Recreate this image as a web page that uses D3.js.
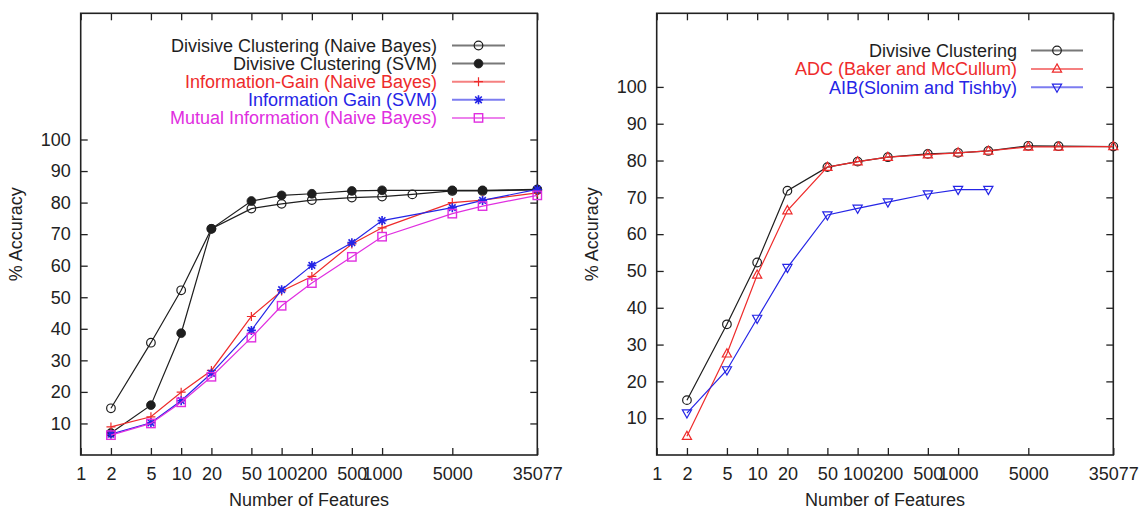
<!DOCTYPE html>
<html>
<head>
<meta charset="utf-8">
<script src="https://cdn.jsdelivr.net/npm/d3@7"></script>
<style>
  body { margin: 0; background: #fff; }
  svg { display: block; }
  text { font-family: "Liberation Sans", Arial, Helvetica, sans-serif; }
</style>
</head>
<body>
<svg id="chart" width="1139" height="510"></svg>
<script>
// ---- tick labels ----
const featureTicks = [1, 2, 5, 10, 20, 50, 100, 200, 500, 1000, 5000, 35077];
const accuracyTicks = [10, 20, 30, 40, 50, 60, 70, 80, 90, 100];

// ---- left panel: feature selection comparisons ----
const featuresWith2000 = [2, 5, 10, 20, 50, 100, 200, 500, 1000, 2000, 5000, 10000, 35077];
const featuresStd      = [2, 5, 10, 20, 50, 100, 200, 500, 1000, 5000, 10000, 35077];

const divisiveNB  = [14.8, 35.6, 52.2, 71.7, 78.1, 79.6, 80.8, 81.6, 81.9, 82.6, 83.7, 83.7, 84.0];
const divisiveSVM = [7.0, 15.8, 38.6, 71.7, 80.5, 82.3, 82.8, 83.7, 83.9, 83.9, 83.9, 84.2];
const infoGainNB  = [8.9, 12.1, 19.9, 26.8, 43.9, 52.0, 56.6, 66.9, 72.0, 80.0, 80.8, 83.1];
const infoGainSVM = [6.6, 10.2, 17.2, 25.9, 39.5, 52.4, 60.1, 67.3, 74.3, 78.4, 80.7, 84.2];
const mutualInfoNB = [6.3, 10.0, 16.7, 24.8, 37.2, 47.3, 54.5, 62.8, 69.2, 76.5, 78.9, 82.3];

// ---- right panel: clustering comparisons ----
const featuresRight = [2, 5, 10, 20, 50, 100, 200, 500, 1000, 2000, 5000, 10000, 35077];
const featuresAIB   = [2, 5, 10, 20, 50, 100, 200, 500, 1000, 2000];

const divisiveRight = [14.9, 35.5, 52.3, 71.8, 78.2, 79.7, 80.9, 81.8, 82.1, 82.6, 84.0, 83.9, 83.8];
const adcBaker      = [5.1, 27.5, 48.9, 66.4, 78.2, 79.7, 80.9, 81.6, 82.1, 82.6, 83.7, 83.7, 83.8];
const aibSlonim     = [11.4, 23.1, 37.1, 50.9, 65.2, 67.0, 68.7, 70.9, 72.1, 72.1];

// ---- colours ----
const BLACK = "#1e1e1e", RED = "#ee2b2b", BLUE = "#2525e6", MAGENTA = "#e02ee0";

const svg = d3.select("#chart");
const PW = 456.6, TOP = 13.3, BOTTOM = 455;
const FONT = 18;

function drawMarker(g, type, color) {
  const sw = 1.2;
  switch (type) {
    case "circle":
      g.append("circle").attr("r", 4.3).attr("fill", "none").attr("stroke", color).attr("stroke-width", sw);
      break;
    case "dot":
      g.append("circle").attr("r", 4.4).attr("fill", color).attr("stroke", color).attr("stroke-width", 0.8);
      break;
    case "plus":
      g.append("path").attr("d", "M-4.5,0H4.5M0,-4.5V4.5").attr("stroke", color).attr("stroke-width", sw);
      break;
    case "star":
      g.append("path").attr("d", "M-4.5,0H4.5M0,-4.5V4.5M-3.3,-3.3L3.3,3.3M-3.3,3.3L3.3,-3.3")
        .attr("stroke", color).attr("stroke-width", sw + 0.4);
      break;
    case "square":
      g.append("rect").attr("x", -4.2).attr("y", -4.2).attr("width", 8.4).attr("height", 8.4)
        .attr("fill", "none").attr("stroke", color).attr("stroke-width", sw + 0.2);
      break;
    case "triUp":
      g.append("path").attr("d", "M0,-5L4.6,3.2L-4.6,3.2Z").attr("fill", "none")
        .attr("stroke", color).attr("stroke-width", sw);
      break;
    case "triDown":
      g.append("path").attr("d", "M0,5L4.6,-3.2L-4.6,-3.2Z").attr("fill", "none")
        .attr("stroke", color).attr("stroke-width", sw);
      break;
  }
}

function drawPanel(p) {
  const x = d3.scaleLog().domain([1, 35077]).range([p.x0, p.x0 + PW]);
  const y = d3.scaleLinear().domain([0, p.yMax]).range([BOTTOM, TOP]);
  const g = svg.append("g");

  // inward ticks on all four sides
  const bottomAxis = g.append("g").attr("transform", `translate(0,${BOTTOM})`)
    .call(d3.axisBottom(x).tickValues(featureTicks).tickFormat(d3.format("d"))
      .tickSizeInner(-7).tickSizeOuter(0).tickPadding(12));
  const topAxis = g.append("g").attr("transform", `translate(0,${TOP})`)
    .call(d3.axisTop(x).tickValues(featureTicks).tickFormat("").tickSizeInner(-7).tickSizeOuter(0));
  const leftAxis = g.append("g").attr("transform", `translate(${p.x0},0)`)
    .call(d3.axisLeft(y).tickValues(accuracyTicks).tickFormat(d3.format("d"))
      .tickSizeInner(-7).tickSizeOuter(0).tickPadding(10));
  const rightAxis = g.append("g").attr("transform", `translate(${p.x0 + PW},0)`)
    .call(d3.axisRight(y).tickValues(accuracyTicks).tickFormat("").tickSizeInner(-7).tickSizeOuter(0));

  [bottomAxis, topAxis, leftAxis, rightAxis].forEach(a => {
    a.select(".domain").remove();
    a.selectAll(".tick line").attr("stroke", "#222").attr("stroke-width", 1.3);
    a.selectAll(".tick text").attr("fill", "#222").style("font-size", FONT + "px")
      .style("font-family", '"Liberation Sans", Arial, sans-serif');
  });

  // frame
  g.append("rect").attr("x", p.x0).attr("y", TOP).attr("width", PW).attr("height", BOTTOM - TOP)
    .attr("fill", "none").attr("stroke", "#222").attr("stroke-width", 1.6);

  // axis titles
  g.append("text").attr("x", p.x0 + PW / 2).attr("y", 506).attr("text-anchor", "middle")
    .attr("fill", "#222").style("font-size", FONT + "px").text("Number of Features");
  g.append("text").attr("transform", `translate(${p.x0 - 59},${(TOP + BOTTOM) / 2}) rotate(-90)`)
    .attr("text-anchor", "middle").attr("fill", "#222").style("font-size", FONT + "px").text("% Accuracy");

  const line = d3.line().x(d => x(d[0])).y(d => y(d[1]));

  // series lines and markers
  p.series.forEach(s => {
    const pts = s.features.map((f, i) => [f, s.values[i]]);
    g.append("path").datum(pts).attr("d", line).attr("fill", "none")
      .attr("stroke", s.color).attr("stroke-width", 1.2);
    pts.forEach(d => {
      const m = g.append("g").attr("transform", `translate(${x(d[0])},${y(d[1])})`);
      drawMarker(m, s.marker, s.color);
    });
  });

  // key
  p.series.forEach((s, i) => {
    const ky = p.key.y0 + i * p.key.dy;
    g.append("text").attr("x", p.key.textRight).attr("y", ky).attr("dy", "0.36em")
      .attr("text-anchor", "end").attr("fill", s.color).style("font-size", FONT + "px").text(s.name);
    g.append("line").attr("x1", p.key.lineX1).attr("x2", p.key.lineX2).attr("y1", ky).attr("y2", ky)
      .attr("stroke", s.color).attr("stroke-width", 2).attr("stroke-opacity", 0.6);
    const m = g.append("g").attr("transform", `translate(${(p.key.lineX1 + p.key.lineX2) / 2},${ky})`);
    drawMarker(m, s.marker, s.color);
  });
}

drawPanel({
  x0: 80.7, yMax: 140,
  key: { y0: 45.5, dy: 18.1, textRight: 437, lineX1: 452, lineX2: 505 },
  series: [
    { name: "Divisive Clustering (Naive Bayes)", features: featuresWith2000, values: divisiveNB, color: BLACK, marker: "circle" },
    { name: "Divisive Clustering (SVM)", features: featuresStd, values: divisiveSVM, color: BLACK, marker: "dot" },
    { name: "Information-Gain (Naive Bayes)", features: featuresStd, values: infoGainNB, color: RED, marker: "plus" },
    { name: "Information Gain (SVM)", features: featuresStd, values: infoGainSVM, color: BLUE, marker: "star" },
    { name: "Mutual Information (Naive Bayes)", features: featuresStd, values: mutualInfoNB, color: MAGENTA, marker: "square" }
  ]
});

drawPanel({
  x0: 656.7, yMax: 120,
  key: { y0: 50.5, dy: 18.4, textRight: 1017, lineX1: 1031, lineX2: 1083 },
  series: [
    { name: "Divisive Clustering", features: featuresRight, values: divisiveRight, color: BLACK, marker: "circle" },
    { name: "ADC (Baker and McCullum)", features: featuresRight, values: adcBaker, color: RED, marker: "triUp" },
    { name: "AIB(Slonim and Tishby)", features: featuresAIB, values: aibSlonim, color: BLUE, marker: "triDown" }
  ]
});
</script>
</body>
</html>
